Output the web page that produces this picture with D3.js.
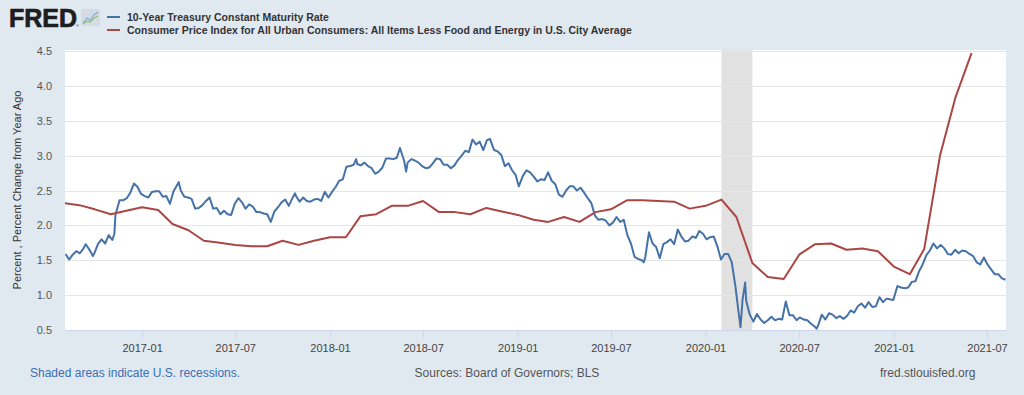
<!DOCTYPE html>
<html>
<head>
<meta charset="utf-8">
<script src="https://cdn.jsdelivr.net/npm/d3@7"></script>
<style>
  body { margin: 0; background: #e1e9f0; }
  svg { display: block; font-family: "Liberation Sans", Arial, sans-serif; }
</style>
</head>
<body>
<div id="chart"></div>
<script>
// 10-Year Treasury (DGS10), read off the picture roughly weekly
var treasury = [
  ["2016-08-05",1.59],["2016-08-12",1.51],["2016-08-19",1.58],["2016-08-26",1.63],
  ["2016-09-02",1.60],["2016-09-09",1.67],["2016-09-13",1.73],["2016-09-16",1.70],["2016-09-23",1.62],["2016-09-27",1.56],["2016-09-30",1.60],
  ["2016-10-07",1.73],["2016-10-14",1.80],["2016-10-21",1.74],["2016-10-28",1.86],
  ["2016-11-04",1.79],["2016-11-08",1.88],["2016-11-10",2.15],["2016-11-18",2.36],["2016-11-25",2.36],
  ["2016-12-02",2.39],["2016-12-09",2.47],["2016-12-16",2.60],["2016-12-23",2.55],["2016-12-30",2.45],
  ["2017-01-06",2.42],["2017-01-13",2.40],["2017-01-20",2.48],["2017-01-27",2.49],
  ["2017-02-03",2.49],["2017-02-10",2.41],["2017-02-17",2.42],["2017-02-24",2.31],
  ["2017-03-03",2.49],["2017-03-10",2.58],["2017-03-13",2.62],["2017-03-17",2.50],["2017-03-24",2.41],["2017-03-31",2.40],
  ["2017-04-07",2.38],["2017-04-14",2.24],["2017-04-21",2.25],["2017-04-28",2.29],
  ["2017-05-05",2.35],["2017-05-12",2.40],["2017-05-19",2.24],["2017-05-26",2.25],
  ["2017-06-02",2.16],["2017-06-09",2.21],["2017-06-16",2.16],["2017-06-23",2.15],["2017-06-30",2.31],
  ["2017-07-07",2.39],["2017-07-14",2.33],["2017-07-21",2.24],["2017-07-28",2.30],
  ["2017-08-04",2.27],["2017-08-11",2.19],["2017-08-18",2.19],["2017-08-25",2.17],
  ["2017-09-01",2.16],["2017-09-08",2.05],["2017-09-15",2.20],["2017-09-22",2.26],["2017-09-29",2.33],
  ["2017-10-06",2.37],["2017-10-13",2.28],["2017-10-20",2.39],["2017-10-25",2.46],["2017-10-27",2.42],
  ["2017-11-03",2.34],["2017-11-10",2.40],["2017-11-17",2.35],["2017-11-24",2.34],
  ["2017-12-01",2.37],["2017-12-08",2.38],["2017-12-15",2.35],["2017-12-22",2.48],["2017-12-29",2.40],
  ["2018-01-05",2.48],["2018-01-12",2.55],["2018-01-19",2.64],["2018-01-26",2.66],
  ["2018-02-02",2.84],["2018-02-09",2.85],["2018-02-16",2.87],["2018-02-21",2.95],["2018-02-23",2.88],
  ["2018-03-02",2.86],["2018-03-09",2.90],["2018-03-16",2.85],["2018-03-23",2.82],["2018-03-30",2.74],
  ["2018-04-06",2.77],["2018-04-13",2.83],["2018-04-20",2.96],["2018-04-27",2.96],
  ["2018-05-04",2.95],["2018-05-11",2.97],["2018-05-17",3.11],["2018-05-25",2.93],["2018-05-29",2.77],
  ["2018-06-01",2.90],["2018-06-08",2.95],["2018-06-15",2.93],["2018-06-22",2.90],["2018-06-29",2.85],
  ["2018-07-06",2.82],["2018-07-13",2.83],["2018-07-20",2.89],["2018-07-27",2.96],
  ["2018-08-03",2.95],["2018-08-10",2.87],["2018-08-17",2.87],["2018-08-24",2.82],["2018-08-31",2.86],
  ["2018-09-07",2.94],["2018-09-14",3.00],["2018-09-21",3.07],["2018-09-28",3.05],
  ["2018-10-05",3.23],["2018-10-12",3.16],["2018-10-19",3.20],["2018-10-26",3.08],
  ["2018-11-02",3.22],["2018-11-08",3.24],["2018-11-16",3.08],["2018-11-23",3.06],["2018-11-30",3.01],
  ["2018-12-07",2.85],["2018-12-14",2.89],["2018-12-21",2.79],["2018-12-28",2.72],
  ["2019-01-03",2.56],["2019-01-11",2.71],["2019-01-18",2.79],["2019-01-25",2.76],
  ["2019-02-01",2.70],["2019-02-08",2.63],["2019-02-15",2.66],["2019-02-22",2.65],
  ["2019-03-01",2.76],["2019-03-08",2.64],["2019-03-15",2.59],["2019-03-22",2.44],["2019-03-29",2.41],
  ["2019-04-05",2.50],["2019-04-12",2.56],["2019-04-19",2.56],["2019-04-26",2.50],
  ["2019-05-03",2.54],["2019-05-10",2.47],["2019-05-17",2.39],["2019-05-24",2.32],["2019-05-31",2.14],
  ["2019-06-07",2.08],["2019-06-14",2.09],["2019-06-21",2.07],["2019-06-28",2.00],
  ["2019-07-05",2.04],["2019-07-12",2.12],["2019-07-19",2.05],["2019-07-26",2.08],
  ["2019-08-02",1.86],["2019-08-09",1.74],["2019-08-16",1.55],["2019-08-23",1.52],["2019-08-30",1.50],
  ["2019-09-03",1.47],["2019-09-06",1.55],["2019-09-13",1.90],["2019-09-20",1.74],["2019-09-27",1.69],
  ["2019-10-04",1.53],["2019-10-11",1.73],["2019-10-18",1.76],["2019-10-25",1.80],
  ["2019-11-01",1.73],["2019-11-08",1.94],["2019-11-15",1.84],["2019-11-22",1.77],["2019-11-29",1.78],
  ["2019-12-06",1.84],["2019-12-13",1.82],["2019-12-20",1.92],["2019-12-27",1.88],
  ["2020-01-03",1.80],["2020-01-10",1.83],["2020-01-17",1.84],["2020-01-24",1.70],["2020-01-31",1.51],
  ["2020-02-07",1.59],["2020-02-14",1.59],["2020-02-21",1.47],["2020-02-28",1.13],
  ["2020-03-06",0.71],["2020-03-09",0.54],["2020-03-13",0.94],["2020-03-18",1.18],["2020-03-20",0.92],["2020-03-27",0.72],
  ["2020-04-03",0.62],["2020-04-10",0.73],["2020-04-17",0.65],["2020-04-24",0.60],
  ["2020-05-01",0.64],["2020-05-08",0.69],["2020-05-15",0.64],["2020-05-22",0.66],["2020-05-29",0.65],
  ["2020-06-05",0.91],["2020-06-12",0.71],["2020-06-19",0.71],["2020-06-26",0.64],
  ["2020-07-02",0.68],["2020-07-10",0.65],["2020-07-17",0.64],["2020-07-24",0.59],["2020-07-31",0.55],
  ["2020-08-04",0.52],["2020-08-07",0.57],["2020-08-14",0.72],["2020-08-21",0.65],["2020-08-28",0.74],
  ["2020-09-04",0.72],["2020-09-11",0.67],["2020-09-18",0.70],["2020-09-25",0.66],
  ["2020-10-02",0.70],["2020-10-09",0.78],["2020-10-16",0.75],["2020-10-23",0.84],["2020-10-30",0.88],
  ["2020-11-06",0.82],["2020-11-13",0.90],["2020-11-20",0.83],["2020-11-27",0.84],
  ["2020-12-04",0.97],["2020-12-11",0.90],["2020-12-18",0.95],["2020-12-24",0.94],["2020-12-31",0.93],
  ["2021-01-08",1.13],["2021-01-15",1.11],["2021-01-22",1.10],["2021-01-29",1.11],
  ["2021-02-05",1.19],["2021-02-12",1.20],["2021-02-19",1.34],["2021-02-26",1.44],
  ["2021-03-05",1.57],["2021-03-12",1.64],["2021-03-19",1.74],["2021-03-26",1.67],
  ["2021-04-02",1.72],["2021-04-09",1.67],["2021-04-16",1.59],["2021-04-23",1.58],["2021-04-30",1.65],
  ["2021-05-07",1.60],["2021-05-14",1.64],["2021-05-21",1.63],["2021-05-28",1.59],
  ["2021-06-04",1.56],["2021-06-11",1.47],["2021-06-18",1.44],["2021-06-25",1.54],
  ["2021-07-02",1.44],["2021-07-09",1.37],["2021-07-16",1.30],["2021-07-23",1.30],["2021-07-30",1.24],
  ["2021-08-06",1.22]
];

// Core CPI, percent change from year ago (monthly)
var cpiMonths = [
  "2016-08","2016-09","2016-10","2016-11","2016-12",
  "2017-01","2017-02","2017-03","2017-04","2017-05","2017-06","2017-07","2017-08","2017-09","2017-10","2017-11","2017-12",
  "2018-01","2018-02","2018-03","2018-04","2018-05","2018-06","2018-07","2018-08","2018-09","2018-10","2018-11","2018-12",
  "2019-01","2019-02","2019-03","2019-04","2019-05","2019-06","2019-07","2019-08","2019-09","2019-10","2019-11","2019-12",
  "2020-01","2020-02","2020-03","2020-04","2020-05","2020-06","2020-07","2020-08","2020-09","2020-10","2020-11","2020-12",
  "2021-01","2021-02","2021-03","2021-04","2021-05","2021-06"
];
var cpiValues = [
  2.32, 2.29, 2.23, 2.16, 2.21,
  2.26, 2.22, 2.02, 1.93, 1.78, 1.75, 1.72, 1.70, 1.70, 1.78, 1.72, 1.78,
  1.83, 1.83, 2.13, 2.16, 2.28, 2.28, 2.35, 2.19, 2.19, 2.16, 2.25, 2.20,
  2.15, 2.08, 2.05, 2.12, 2.05, 2.19, 2.23, 2.36, 2.36, 2.35, 2.34, 2.24,
  2.28, 2.37, 2.12, 1.46, 1.26, 1.23, 1.58, 1.73, 1.74, 1.65, 1.67, 1.63,
  1.41, 1.30, 1.66, 3.01, 3.84, 4.47
];

var recessions = [["2020-02-01", "2020-04-01"]];
var yTicks = [0.5, 1.0, 1.5, 2.0, 2.5, 3.0, 3.5, 4.0, 4.5];
var xTicks = ["2017-01","2017-07","2018-01","2018-07","2019-01","2019-07","2020-01","2020-07","2021-01","2021-07"];

var seriesNames = ["10-Year Treasury Constant Maturity Rate",
  "Consumer Price Index for All Urban Consumers: All Items Less Food and Energy in U.S. City Average"];
var seriesColors = ["#4572a7", "#aa4643"];

var width = 1024, height = 395;
var plot = {left: 65, right: 1006, top: 50, bottom: 330};

var parseDay = d3.timeParse("%Y-%m-%d"),
    parseMonth = d3.timeParse("%Y-%m");

var svg = d3.select("#chart").append("svg")
    .attr("width", width)
    .attr("height", height);

svg.append("rect").attr("width", width).attr("height", height).attr("fill", "#e1e9f0");

var x = d3.scaleTime()
    .domain([parseDay("2016-08-04"), parseDay("2021-08-07")])
    .range([plot.left, plot.right]);
var y = d3.scaleLinear()
    .domain([0.5, 4.5])
    .range([plot.bottom, plot.top + 1]);

// plot background
svg.append("rect")
    .attr("x", plot.left).attr("y", plot.top)
    .attr("width", plot.right - plot.left).attr("height", plot.bottom - plot.top)
    .attr("fill", "#ffffff");

svg.append("clipPath").attr("id", "clip")
    .append("rect")
    .attr("x", plot.left).attr("y", plot.top)
    .attr("width", plot.right - plot.left).attr("height", plot.bottom - plot.top);

// recession shading
svg.append("g").selectAll("rect")
    .data(recessions)
    .enter().append("rect")
    .attr("x", d => x(parseDay(d[0])))
    .attr("y", plot.top)
    .attr("width", d => x(parseDay(d[1])) - x(parseDay(d[0])))
    .attr("height", plot.bottom - plot.top)
    .attr("fill", "#e1e1e1");

// gridlines
svg.append("g")
    .attr("transform", "translate(" + plot.left + ",0)")
    .call(d3.axisLeft(y).tickValues(yTicks.slice(1)).tickSize(-(plot.right - plot.left)).tickFormat(""))
    .call(g => g.select(".domain").remove())
    .selectAll("line").attr("stroke", "#e6e6e6").attr("shape-rendering", "crispEdges");

// y tick labels
svg.append("g")
    .attr("transform", "translate(" + plot.left + ",0)")
    .call(d3.axisLeft(y).tickValues(yTicks).tickSize(0).tickPadding(13).tickFormat(d3.format(".1f")))
    .call(g => g.select(".domain").remove())
    .selectAll("text")
    .style("font-family", "Liberation Sans, Arial, sans-serif")
    .style("font-size", "11px")
    .attr("fill", "#555");

// x axis
var xAxis = svg.append("g")
    .attr("transform", "translate(0," + plot.bottom + ")")
    .call(d3.axisBottom(x).tickValues(xTicks.map(parseMonth)).tickSize(8).tickPadding(6).tickFormat(d3.timeFormat("%Y-%m")));
xAxis.select(".domain").attr("stroke", "#ccd6eb").attr("d", "M" + plot.left + ",0.5H" + plot.right);
xAxis.selectAll("line").attr("stroke", "#ccd6eb");
xAxis.selectAll("text")
    .style("font-family", "Liberation Sans, Arial, sans-serif")
    .style("font-size", "11px")
    .attr("fill", "#444");

// lines
var lines = svg.append("g").attr("clip-path", "url(#clip)");

var treasuryLine = d3.line()
    .defined(d => d[1] != null)
    .x(d => x(parseDay(d[0])))
    .y(d => y(d[1]));

lines.append("path")
    .datum(treasury)
    .attr("fill", "none")
    .attr("stroke", seriesColors[0])
    .attr("stroke-width", 2)
    .attr("stroke-linejoin", "round")
    .attr("d", treasuryLine);

var cpiLine = d3.line()
    .x((d, i) => x(parseMonth(cpiMonths[i])))
    .y(d => y(d));

lines.append("path")
    .datum(cpiValues)
    .attr("fill", "none")
    .attr("stroke", seriesColors[1])
    .attr("stroke-width", 2)
    .attr("stroke-linejoin", "round")
    .attr("d", cpiLine);

// y axis title
svg.append("text")
    .attr("transform", "translate(21," + ((plot.top + plot.bottom) / 2) + ") rotate(-90)")
    .attr("text-anchor", "middle")
    .style("font-size", "11px")
    .attr("fill", "#333")
    .text("Percent , Percent Change from Year Ago");

// FRED logo
svg.append("text")
    .attr("x", 9).attr("y", 27)
    .style("font-size", "25px")
    .style("font-weight", "bold")
    .attr("fill", "#1e1e1e")
    .attr("stroke", "#1e1e1e")
    .attr("stroke-width", 0.7)
    .text("FRED");
svg.append("text")
    .attr("x", 76).attr("y", 27)
    .style("font-size", "4px")
    .attr("fill", "#222")
    .text("®");
var icon = svg.append("g").attr("transform", "translate(81,9)");
icon.append("rect").attr("width", 19).attr("height", 17).attr("rx", 2).attr("fill", "#d5dbe2");
icon.append("polyline").attr("points", "2,14 6,9 9,11 13,6 17,3")
    .attr("fill", "none").attr("stroke", "#7fb0d8").attr("stroke-width", 1.2);
icon.append("polyline").attr("points", "2,15 6,12 9,13 13,9 17,7")
    .attr("fill", "none").attr("stroke", "#8cc06b").attr("stroke-width", 1.2);

// legend
var legend = svg.append("g").selectAll("g")
    .data(seriesNames)
    .enter().append("g")
    .attr("transform", (d, i) => "translate(107," + (17 + i * 13) + ")");
legend.append("line")
    .attr("x1", 0).attr("x2", 13)
    .attr("stroke", (d, i) => seriesColors[i])
    .attr("stroke-width", 2);
legend.append("text")
    .attr("x", 20).attr("y", 4)
    .style("font-size", "10.5px")
    .style("font-weight", "bold")
    .attr("fill", "#333")
    .text(d => d);

// footer
svg.append("text")
    .attr("x", 30).attr("y", 377)
    .style("font-size", "12px")
    .attr("fill", "#3b6fb6")
    .text("Shaded areas indicate U.S. recessions.");
svg.append("text")
    .attr("x", 507).attr("y", 377)
    .attr("text-anchor", "middle")
    .style("font-size", "12px")
    .attr("fill", "#555")
    .text("Sources: Board of Governors; BLS");
svg.append("text")
    .attr("x", 880).attr("y", 377)
    .style("font-size", "12px")
    .attr("fill", "#555")
    .text("fred.stlouisfed.org");
</script>
</body>
</html>
